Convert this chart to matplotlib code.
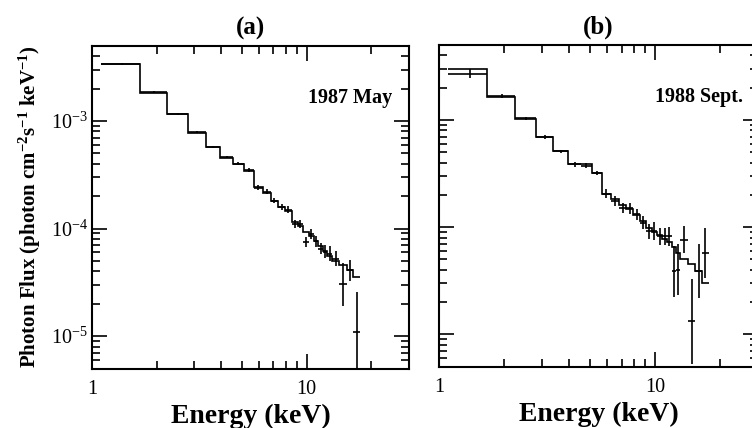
import matplotlib
matplotlib.use("Agg")
import matplotlib.pyplot as plt
import numpy as np
from matplotlib.ticker import FixedLocator, NullFormatter, FuncFormatter, LogLocator

plt.rcParams["font.family"] = ["Liberation Serif", "DejaVu Serif"]
plt.rcParams["mathtext.fontset"] = "custom"
plt.rcParams["mathtext.rm"] = "Liberation Serif"
plt.rcParams["mathtext.bf"] = "Liberation Serif:bold"
plt.rcParams["mathtext.it"] = "Liberation Serif:italic"

# energy bins (keV), same channels for both observations
edges = [1.10, 1.67, 2.24, 2.81, 3.38, 3.95, 4.52, 5.09, 5.66, 6.23, 6.80,
         7.37, 7.94, 8.51, 9.08, 9.65, 10.22, 10.79, 11.36, 11.93, 12.50,
         13.07, 14.21, 15.35, 16.49, 17.75]

# (a) 1987 May
model_a = [3.35e-3, 1.83e-3, 1.15e-3, 7.8e-4, 5.75e-4, 4.55e-4, 3.95e-4, 3.45e-4,
           2.42e-4, 2.15e-4, 1.8e-4, 1.6e-4, 1.47e-4, 1.16e-4, 1.06e-4, 9.3e-5,
           8.5e-5, 7.7e-5, 6.9e-5, 6.2e-5, 5.6e-5, 5.0e-5, 4.55e-5, 4.1e-5, 3.55e-5]
flux_a = [3.35e-3, 1.85e-3, 1.15e-3, 7.9e-4, 5.7e-4, 4.6e-4, 4.0e-4, 3.5e-4,
          2.4e-4, 2.2e-4, 1.82e-4, 1.58e-4, 1.5e-4, 1.1e-4, 1.1e-4, 7.5e-5,
          8.9e-5, 7.6e-5, 6.5e-5, 6.1e-5, 5.8e-5, 5.24e-5, 3.03e-5, 4.09e-5, 1.1e-5]
err_a = [0.01, 0.01, 0.01, 0.01, 0.012, 0.012, 0.012, 0.015,
         0.02, 0.025, 0.025, 0.03, 0.03, 0.035, 0.035, 0.05,
         0.045, 0.05, 0.05, 0.06, 0.07, 0.07, 0.2, 0.1, 0.37]   # dex

# (b) 1988 Sept.
model_b = [2.98e-3, 1.65e-3, 1.03e-3, 6.93e-4, 5.13e-4, 3.9e-4, 3.85e-4, 3.22e-4,
           2.05e-4, 1.85e-4, 1.62e-4, 1.48e-4, 1.3e-4, 1.13e-4, 9.9e-5, 9.0e-5,
           8.4e-5, 7.7e-5, 7.2e-5, 6.6e-5, 5.8e-5, 5.0e-5, 4.5e-5, 3.9e-5, 3.0e-5]
flux_b = [2.71e-3, 1.67e-3, 1.04e-3, 6.95e-4, 5.1e-4, 3.85e-4, 3.75e-4, 3.22e-4,
          2.05e-4, 1.75e-4, 1.51e-4, 1.5e-4, 1.32e-4, 1.1e-4, 9.2e-5, 9.2e-5,
          8.2e-5, 8.2e-5, 8.2e-5, 3.88e-5, 4.03e-5, 7.67e-5, 1.32e-5, 3.88e-5, 5.75e-5]
err_b = [0.04, 0.015, 0.015, 0.015, 0.015, 0.02, 0.02, 0.02,
         0.04, 0.045, 0.05, 0.05, 0.05, 0.06, 0.07, 0.08,
         0.08, 0.08, 0.09, 0.24, 0.24, 0.13, 0.4, 0.25, 0.23]   # dex


def setup(ax, ylab=True):
    ax.set_xscale("log")
    ax.set_yscale("log")
    ax.set_xlim(1, 30)
    ax.set_ylim(5e-6, 5e-3)
    ax.xaxis.set_major_locator(FixedLocator([1, 10]))
    ax.xaxis.set_minor_locator(FixedLocator([2, 3, 4, 5, 6, 7, 8, 9, 20]))
    ax.xaxis.set_major_formatter(FuncFormatter(lambda v, p: "%d" % round(v)))
    ax.xaxis.set_minor_formatter(NullFormatter())
    ax.yaxis.set_major_locator(FixedLocator([1e-5, 1e-4, 1e-3]))
    ax.yaxis.set_minor_locator(LogLocator(base=10, subs=np.arange(2, 10), numticks=20))
    ax.yaxis.set_minor_formatter(NullFormatter())
    if ylab:
        ax.yaxis.set_major_formatter(FuncFormatter(lambda v, p: r"$10^{%d}$" % round(np.log10(v))))
    else:
        ax.yaxis.set_major_formatter(NullFormatter())
    ax.tick_params(which="both", direction="in", top=True, right=True, width=1.2, labelsize=14.5)
    ax.tick_params(which="major", length=11)
    ax.tick_params(which="minor", length=6)
    ax.tick_params(axis="x", pad=8)
    ax.tick_params(axis="y", pad=3)
    for s in ax.spines.values():
        s.set_linewidth(1.5)
    ax.set_xlabel("Energy (keV)", fontsize=20, fontweight="bold")
    ax.xaxis.set_label_coords(0.5, -0.108)


def draw(ax, model, flux, err):
    lo = edges[:-1]
    hi = edges[1:]
    cen = [(l + h) / 2 for l, h in zip(lo, hi)]
    ax.stairs(model, edges, baseline=None, color="k", lw=1.2)
    ylo = [f - f * 10 ** (-e) for f, e in zip(flux, err)]
    yhi = [f * 10 ** e - f for f, e in zip(flux, err)]
    xlo = [c - l for c, l in zip(cen, lo)]
    xhi = [h - c for c, h in zip(cen, hi)]
    ax.errorbar(cen, flux, xerr=[xlo, xhi], yerr=[ylo, yhi], fmt="none",
                ecolor="k", elinewidth=1.2, capsize=0)


fig = plt.figure(figsize=(7.52, 4.28), dpi=100)
ax1 = fig.add_axes([92 / 752, 1 - 368.5 / 428, 317 / 752, 322.8 / 428])
ax2 = fig.add_axes([439.3 / 752, 1 - 366.7 / 428, 318.7 / 752, 321.7 / 428])

setup(ax1)
setup(ax2, ylab=False)
draw(ax1, model_a, flux_a, err_a)
draw(ax2, model_b, flux_b, err_b)

ax1.set_title("(a)", fontsize=18, fontweight="bold", pad=8)
ax2.set_title("(b)", fontsize=18, fontweight="bold", pad=8)
ax1.text(0.946, 0.822, "1987 May", transform=ax1.transAxes, ha="right",
         va="baseline", fontsize=14.5, fontweight="bold")
ax2.text(0.953, 0.823, "1988 Sept.", transform=ax2.transAxes, ha="right",
         va="baseline", fontsize=14.5, fontweight="bold")

ax1.set_ylabel(r"Photon Flux (photon cm$^{\mathbf{-2}}$s$^{\mathbf{-1}}$ keV$^{\mathbf{-1}}$)",
               fontsize=15, fontweight="bold")
ax1.yaxis.set_label_coords(-0.155, 0.5)

fig.savefig("out.png", dpi=100)
